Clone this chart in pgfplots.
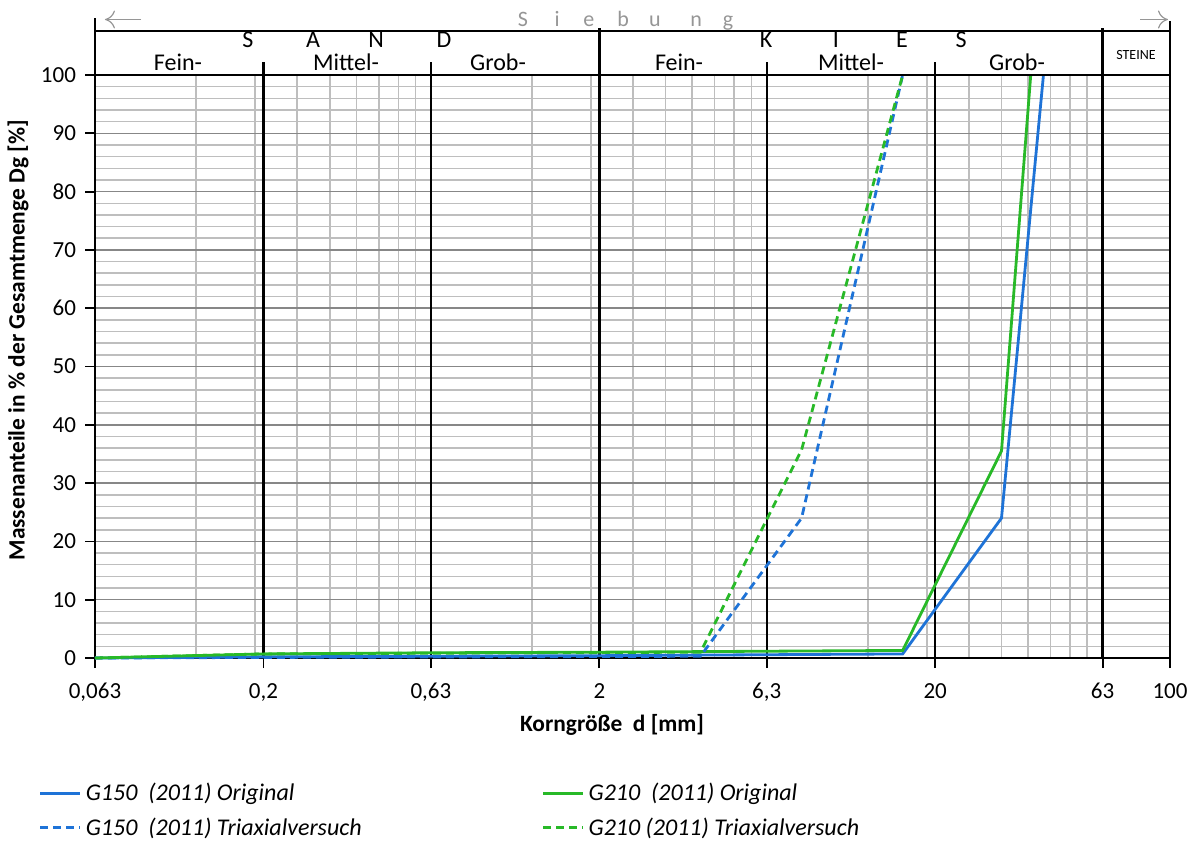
\documentclass[border=0pt]{standalone}
\usepackage{fontspec}
\setmainfont{Carlito}
\usepackage{pgfplots}
\pgfplotsset{compat=1.18}
\usetikzlibrary{arrows.meta}
\definecolor{lineblue}{RGB}{30,115,215}
\definecolor{linegreen}{RGB}{40,185,40}
\definecolor{gridminor}{RGB}{190,190,190}
\definecolor{gridmajor}{RGB}{135,135,135}
\definecolor{headgray}{RGB}{150,150,150}
\begin{document}
\begin{tikzpicture}
\begin{axis}[
  at={(0,0)}, anchor=south west,
  scale only axis, width=537.5pt, height=291.5pt,
  xmode=log, xmin=0.063, xmax=100, ymin=0, ymax=100,
  clip=false,
  xtick={0.063,0.2,0.63,2,6.3,20,63,100},
  xticklabels={0{,}063,0{,}2,0{,}63,2,6{,}3,20,63,100},
  minor xtick={0.126,0.189,0.252,0.315,0.378,0.441,0.504,0.567,1.26,1.89,2.52,3.15,3.78,4.41,5.04,5.67,12.6,18.9,25.2,31.5,37.8,44.1,50.4,56.7},
  ytick={0,10,...,100},
  minor ytick={2,4,6,8,12,14,16,18,22,24,26,28,32,34,36,38,42,44,46,48,52,54,56,58,62,64,66,68,72,74,76,78,82,84,86,88,92,94,96,98},
  xminorgrids, yminorgrids, ymajorgrids,
  minor grid style={gridminor, line width=0.75pt},
  major grid style={gridmajor, line width=0.75pt},
  tick pos=left,
  tick align=outside, major tick length=5pt, minor tick length=0pt,
  tick style={black, line width=0.9pt},
  axis line style={black, line width=1.2pt},
  ticklabel style={font=\fontsize{11.5}{13}\selectfont},
  /pgf/number format/assume math mode=true,
  xticklabel style={yshift=-4pt},
  yticklabel style={xshift=-1pt},
  legend columns=2,
  legend cell align=left,
  legend style={draw=none, fill=none, at={(-0.058,-0.2)}, anchor=north west,
    font=\fontsize{12}{14}\selectfont\itshape, row sep=3pt},
  legend image code/.code={\draw[#1] (0pt,0pt) -- (20pt,0pt);},
]
% major black vertical lines
\draw[black, line width=1.2pt] (axis cs:0.2,0) -- (axis cs:0.2,102.2);
\draw[black, line width=1.2pt] (axis cs:0.63,0) -- (axis cs:0.63,102.2);
\draw[black, line width=1.2pt] (axis cs:2,0) -- (axis cs:2,108.1);
\draw[black, line width=1.2pt] (axis cs:6.3,0) -- (axis cs:6.3,102.2);
\draw[black, line width=1.2pt] (axis cs:20,0) -- (axis cs:20,102.2);
\draw[black, line width=1.2pt] (axis cs:63,0) -- (axis cs:63,108.1);

\addplot[lineblue, line width=1.4pt] coordinates {(0.063,0) (0.2,0.2) (2,0.4) (16,0.7) (31.5,24) (42,100)};
\addlegendentry{\makebox[226pt][l]{G150\ \ (2011) Original}}
\addplot[linegreen, line width=1.4pt] coordinates {(0.063,0) (0.2,0.7) (0.63,0.9) (2,1.0) (16,1.3) (31.5,35.5) (38.5,100)};
\addlegendentry{G210\ \ (2011) Original}
\addplot[lineblue, line width=1.4pt, dash pattern=on 4pt off 2.5pt] coordinates {(0.063,0) (0.2,0.1) (4,0.3) (8,24) (16,100)};
\addlegendentry{\makebox[226pt][l]{G150\ \ (2011) Triaxialversuch}}
\addplot[linegreen, line width=1.4pt, dash pattern=on 4pt off 2.5pt] coordinates {(0.063,0) (0.2,0.7) (4,1.0) (8,35.7) (16,100)};
\addlegendentry{G210 (2011) Triaxialversuch}

% header frame
\draw[black, line width=1.2pt] (rel axis cs:0,1.0755) -- (rel axis cs:1,1.0755);
\draw[black, line width=1.2pt] (rel axis cs:0,1) -- (rel axis cs:0,1.0978);
\draw[black, line width=1.2pt] (rel axis cs:1,1) -- (rel axis cs:1,1.0926);
\draw[black, line width=1.2pt] (rel axis cs:0,1) -- (rel axis cs:1,1);
% arrows
\draw[headgray, line width=0.6pt, -{To[length=5pt,width=9pt]}] (rel axis cs:0.0428,1.0952) -- (rel axis cs:0.0093,1.0952);
\draw[headgray, line width=0.6pt, -{To[length=5pt,width=9pt]}] (rel axis cs:0.9721,1.0952) -- (rel axis cs:0.9981,1.0952);
% Siebung
\begin{scope}[every node/.style={anchor=base, text=headgray, font=\fontsize{11}{13}\selectfont}]
\node at (rel axis cs:0.3981,1.0840) {S};
\node at (rel axis cs:0.4298,1.0840) {i};
\node at (rel axis cs:0.4595,1.0840) {e};
\node at (rel axis cs:0.4912,1.0840) {b};
\node at (rel axis cs:0.5209,1.0840) {u};
\node at (rel axis cs:0.5591,1.0840) {n};
\node at (rel axis cs:0.5888,1.0840) {g};
\end{scope}
% SAND / KIES
\begin{scope}[every node/.style={anchor=base, inner sep=1pt, font=\fontsize{12}{14}\selectfont}]
\node at (rel axis cs:0.1423,1.0475) {S};
\node at (rel axis cs:0.2028,1.0475) {A};
\node at (rel axis cs:0.2614,1.0475) {N};
\node at (rel axis cs:0.3247,1.0475) {D};
\node at (rel axis cs:0.6242,1.0475) {K};
\node at (rel axis cs:0.6893,1.0475) {I};
\node at (rel axis cs:0.7507,1.0475) {E};
\node at (rel axis cs:0.8056,1.0475) {S};
\node at (rel axis cs:0.0772,1.0085) {Fein-};
\node at (rel axis cs:0.2335,1.0085) {Mittel-};
\node at (rel axis cs:0.3749,1.0085) {Grob-};
\node at (rel axis cs:0.5433,1.0085) {Fein-};
\node at (rel axis cs:0.7033,1.0085) {Mittel-};
\node at (rel axis cs:0.8577,1.0085) {Grob-};
\node[font=\fontsize{7}{8}\selectfont] at (rel axis cs:0.9684,1.0274) {STEINE};
\end{scope}
% axis labels
\node[font=\fontsize{11.7}{14}\selectfont\bfseries] at (rel axis cs:0.481,-0.115) {Korngröße\ \ d [mm]};
\node[font=\fontsize{11.7}{14}\selectfont\bfseries, rotate=90] at (rel axis cs:-0.0716,0.545) {Massenanteile in \% der Gesamtmenge Dg [\%]};
\end{axis}
\pgfresetboundingbox
\path[use as bounding box] (-47.5pt,-92.5pt) rectangle (548.5pt,329pt);
\end{tikzpicture}
\end{document}
